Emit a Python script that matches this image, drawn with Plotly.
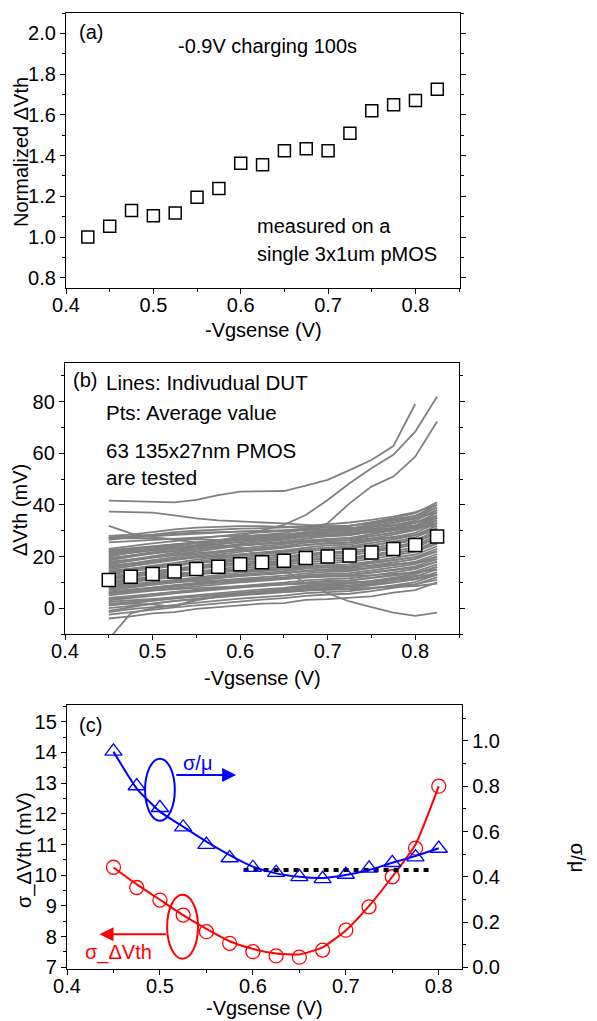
import plotly.graph_objects as go

# page body adds an 8px margin, so the figure is drawn 8px smaller and shifted
OFF = 8
W, H = 597 - OFF, 1021 - OFF
FONT = "Liberation Sans, Arial, sans-serif"

# ---------------- Panel (a) data ----------------
vg_a = [0.425, 0.45, 0.475, 0.5, 0.525, 0.55, 0.575, 0.6, 0.625, 0.65,
        0.675, 0.7, 0.725, 0.75, 0.775, 0.8, 0.825]
norm_dvth = [1.0, 1.053, 1.131, 1.105, 1.118, 1.195, 1.238, 1.363, 1.355,
             1.424, 1.433, 1.424, 1.51, 1.62, 1.649, 1.67, 1.726]

# ---------------- Panel (b) data ----------------
vg_b = [0.45, 0.475, 0.5, 0.525, 0.55, 0.575, 0.6, 0.625, 0.65, 0.675,
        0.7, 0.725, 0.75, 0.775, 0.8, 0.825]
avg_dvth = [10.97, 12.2, 13.2, 14.2, 15.2, 16.1, 17.0, 17.8, 18.4, 19.4,
            20.0, 20.4, 21.6, 22.9, 24.5, 27.8]
dut_lines = [
    [41.7, 41.5, 41.3, 41.0, 42.0, 43.8, 45.2, 45.3, 45.4, 47.5, 49.7, 53.5, 57.4, 62.8, 79.1, None],
    [37.4, 37.2, 37.0, 36.0, 34.8, 34.0, 33.5, 33.2, 32.9, 32.3, 31.6, 31.0, 30.5, 31.0, 32.0, 35.0],
    [22.0, 22.5, 23.0, 23.5, 24.5, 26.0, 28.0, 30.0, 32.3, 36.1, 41.9, 48.4, 54.2, 59.4, 68.4, 82.0],
    [27.0, 27.5, 28.0, 28.5, 29.0, 29.5, 29.8, 30.0, 30.1, 30.3, 32.9, 40.6, 47.1, 51.0, 58.7, 72.3],
    [31.9, 29.0, 27.5, 26.5, 25.5, 24.5, 23.5, 20.0, 15.0, 9.7, 5.8, 2.6, 0.4, -1.7, -3.0, -1.7],
    [-12.0, -2.0, 0.0, 1.0, 3.0, 4.5, 5.5, 6.5, 7.5, 8.5, 9.0, 9.5, 10.5, 11.5, 12.5, 13.0],
    [-4.0, -3.2, -2.0, -1.5, -0.3, 0.4, 1.0, 1.8, 2.0, 3.2, 3.5, 4.0, 4.6, 6.0, 7.0, 10.0],
    [-2.5, -1.5, -0.6, 0.3, 1.1, 1.9, 2.7, 3.3, 3.9, 4.8, 5.3, 5.6, 6.6, 7.8, 9.1, 12.0],
    [-1.5, -0.4, 0.4, 1.3, 2.1, 2.9, 3.7, 4.3, 4.9, 5.8, 6.3, 6.6, 7.6, 8.8, 10.1, 13.0],
    [-1.0, 0.5, 1.8, 2.8, 3.6, 4.5, 5.3, 6.0, 6.6, 7.0, 7.3, 7.6, 7.9, 8.2, 8.6, 9.5],
    [0.0, 1.0, 1.8, 2.7, 3.5, 4.2, 5.0, 5.6, 6.2, 7.0, 7.6, 7.8, 8.8, 9.9, 11.2, 14.0],
    [1.0, 2.0, 2.8, 3.7, 4.5, 5.2, 6.0, 6.6, 7.2, 8.0, 8.6, 8.8, 9.8, 10.9, 12.2, 15.0],
    [1.5, 2.5, 3.4, 4.3, 5.1, 5.9, 6.7, 7.3, 7.9, 8.8, 9.3, 9.6, 10.6, 11.8, 13.1, 16.0],
    [2.0, 1.8, 1.5, 0.5, 3.5, 4.5, 5.5, 6.2, 6.8, 7.5, 8.0, 8.4, 9.2, 10.2, 11.2, 13.0],
    [3.0, 4.0, 4.8, 5.7, 6.5, 7.2, 8.0, 8.6, 9.2, 10.0, 10.6, 10.8, 11.8, 12.9, 14.2, 17.0],
    [3.5, 4.5, 5.4, 6.3, 7.1, 7.9, 8.7, 9.3, 9.9, 10.8, 11.3, 11.6, 12.6, 13.8, 15.1, 18.0],
    [4.0, 4.8, 5.6, 6.3, 7.0, 7.6, 8.3, 8.8, 9.3, 10.0, 10.5, 10.7, 11.6, 12.5, 13.6, 16.0],
    [5.0, 6.0, 6.8, 7.7, 8.5, 9.2, 10.0, 10.6, 11.2, 12.0, 12.6, 12.8, 13.8, 14.9, 16.2, 19.0],
    [5.5, 6.5, 7.4, 8.3, 9.1, 9.9, 10.7, 11.3, 11.9, 12.8, 13.3, 13.6, 14.6, 15.8, 17.1, 20.0],
    [6.0, 7.1, 8.0, 8.9, 9.8, 10.5, 11.4, 12.0, 12.6, 13.5, 14.1, 14.4, 15.5, 16.7, 18.0, 21.0],
    [6.5, 7.3, 8.0, 8.7, 9.4, 10.0, 10.6, 11.1, 11.6, 12.3, 12.7, 12.9, 13.7, 14.7, 15.7, 18.0],
    [7.0, 8.1, 9.0, 9.9, 10.8, 11.5, 12.4, 13.0, 13.6, 14.5, 15.1, 15.4, 16.5, 17.7, 19.0, 22.0],
    [7.5, 8.6, 9.5, 10.4, 11.4, 12.2, 13.1, 13.7, 14.3, 15.3, 15.9, 16.2, 17.3, 18.5, 19.9, 23.0],
    [8.0, 9.1, 10.1, 11.0, 12.0, 12.8, 13.8, 14.4, 15.0, 16.0, 16.6, 17.0, 18.1, 19.4, 20.8, 24.0],
    [8.5, 9.3, 10.0, 10.7, 11.4, 12.0, 12.6, 13.1, 13.6, 14.3, 14.7, 14.9, 15.7, 16.7, 17.7, 20.0],
    [9.0, 10.1, 11.1, 12.0, 13.0, 13.8, 14.8, 15.4, 16.0, 17.0, 17.6, 18.0, 19.1, 20.4, 21.8, 25.0],
    [9.5, 10.7, 11.6, 12.6, 13.6, 14.5, 15.4, 16.1, 16.8, 17.8, 18.4, 18.7, 19.9, 21.2, 22.7, 26.0],
    [10.0, 11.2, 12.2, 13.2, 14.3, 15.1, 16.1, 16.8, 17.5, 18.5, 19.2, 19.5, 20.7, 22.1, 23.6, 27.0],
    [10.5, 11.3, 12.0, 12.7, 13.4, 14.0, 14.6, 15.1, 15.6, 16.3, 16.7, 16.9, 17.7, 18.7, 19.7, 22.0],
    [11.0, 12.2, 13.2, 14.2, 15.3, 16.1, 17.1, 17.8, 18.5, 19.5, 20.2, 20.5, 21.7, 23.1, 24.6, 28.0],
    [11.5, 12.7, 13.8, 14.8, 15.9, 16.8, 17.8, 18.5, 19.2, 20.3, 21.0, 21.3, 22.5, 23.9, 25.5, 29.0],
    [12.0, 13.3, 14.3, 15.4, 16.5, 17.4, 18.5, 19.2, 19.9, 21.0, 21.7, 22.1, 23.3, 24.8, 26.4, 30.0],
    [12.5, 13.4, 14.1, 14.9, 15.6, 16.3, 17.0, 17.5, 18.0, 18.8, 19.3, 19.5, 20.4, 21.4, 22.5, 25.0],
    [13.0, 14.3, 15.3, 16.4, 17.5, 18.4, 19.5, 20.2, 20.9, 22.0, 22.7, 23.1, 24.3, 25.8, 27.4, 31.0],
    [13.5, 14.8, 15.9, 17.0, 18.1, 19.1, 20.2, 20.9, 21.6, 22.8, 23.5, 23.9, 25.2, 26.6, 28.3, 32.0],
    [14.0, 15.3, 16.5, 17.6, 18.8, 19.7, 20.8, 21.6, 22.4, 23.5, 24.3, 24.6, 26.0, 27.5, 29.2, 33.0],
    [14.5, 15.4, 16.1, 16.9, 17.6, 18.3, 19.0, 19.5, 20.0, 20.8, 21.3, 21.5, 22.4, 23.4, 24.5, 27.0],
    [15.0, 16.3, 17.5, 18.6, 19.8, 20.7, 21.8, 22.6, 23.4, 24.5, 25.3, 25.6, 27.0, 28.5, 30.2, 34.0],
    [15.5, 16.9, 18.0, 19.2, 20.4, 21.4, 22.5, 23.3, 24.1, 25.3, 26.0, 26.4, 27.8, 29.3, 31.1, 35.0],
    [16.0, 17.4, 18.6, 19.8, 21.0, 22.0, 23.2, 24.0, 24.8, 26.0, 26.8, 27.2, 28.6, 30.2, 32.0, 36.0],
    [16.5, 17.4, 18.1, 18.9, 19.6, 20.3, 21.0, 21.5, 22.0, 22.8, 23.3, 23.5, 24.4, 25.4, 26.5, 29.0],
    [17.0, 18.4, 19.6, 20.8, 22.0, 23.0, 24.2, 25.0, 25.8, 27.0, 27.8, 28.2, 29.6, 31.2, 33.0, 37.0],
    [17.5, 18.9, 20.2, 21.4, 22.6, 23.7, 24.9, 25.7, 26.5, 27.8, 28.6, 29.0, 30.4, 32.1, 33.9, 38.0],
    [18.0, 18.9, 19.7, 20.5, 21.3, 21.9, 22.7, 23.2, 23.7, 24.5, 25.0, 25.3, 26.2, 27.2, 28.4, 31.0],
    [18.5, 19.9, 21.2, 22.4, 23.6, 24.7, 25.9, 26.7, 27.5, 28.8, 29.6, 30.0, 31.4, 33.1, 34.9, 39.0],
    [19.0, 20.5, 21.7, 23.0, 24.3, 25.3, 26.6, 27.4, 28.2, 29.5, 30.3, 30.8, 32.2, 33.9, 35.8, 40.0],
    [19.5, 20.4, 21.3, 22.1, 22.9, 23.6, 24.4, 24.9, 25.4, 26.3, 26.8, 27.1, 28.0, 29.1, 30.3, 33.0],
    [20.0, 21.5, 22.7, 24.0, 25.3, 26.3, 27.6, 28.4, 29.2, 30.5, 31.3, 31.8, 33.2, 34.9, 36.8, 41.0],
    [20.5, 21.5, 22.4, 23.3, 24.1, 24.9, 25.7, 26.3, 26.9, 27.8, 28.3, 28.6, 29.6, 30.8, 32.1, 35.0],
    [21.0, 22.2, 23.2, 24.2, 25.3, 26.1, 27.1, 27.8, 28.5, 29.5, 30.2, 30.5, 31.7, 33.1, 34.6, 38.0],
    [21.5, 22.1, 22.6, 23.1, 23.6, 24.1, 24.6, 24.9, 25.2, 25.8, 26.1, 26.3, 26.9, 27.5, 28.3, 30.0],
    [22.0, 23.0, 23.8, 24.7, 25.5, 26.2, 27.0, 27.6, 28.2, 29.0, 29.6, 29.8, 30.8, 31.9, 33.2, 36.0],
    [22.5, 23.3, 24.0, 24.7, 25.4, 26.0, 26.6, 27.1, 27.6, 28.3, 28.7, 28.9, 29.7, 30.7, 31.7, 34.0],
    [23.0, 24.1, 25.1, 26.0, 27.0, 27.8, 28.8, 29.4, 30.0, 31.0, 31.6, 32.0, 33.1, 34.4, 35.8, 39.0],
    [25.5, 26.0, 26.5, 27.0, 27.5, 27.8, 28.0, 28.2, 28.4, 28.8, 29.0, 29.3, 29.8, 30.3, 31.0, 32.0],
    [26.5, 27.5, 28.5, 29.5, 30.0, 30.5, 30.8, 31.0, 31.2, 31.5, 31.8, 32.0, 32.8, 33.8, 35.0, 37.0],
    [27.5, 28.0, 28.5, 29.0, 29.3, 29.5, 29.6, 29.8, 30.0, 30.3, 30.6, 31.0, 31.6, 32.3, 33.3, 35.0],
    [28.0, 28.5, 29.5, 30.5, 31.2, 31.6, 31.8, 31.8, 31.5, 31.8, 32.5, 33.2, 34.2, 35.5, 37.2, 40.0],
    [27.0, 27.2, 27.0, 26.8, 26.5, 26.5, 26.8, 27.0, 27.3, 27.8, 28.2, 28.7, 29.4, 30.2, 31.3, 33.0],
    [6.0, 6.5, 7.0, 7.4, 7.8, 8.2, 8.5, 8.8, 9.1, 9.5, 9.8, 10.0, 10.4, 11.0, 11.6, 13.0],
    [9.0, 9.4, 9.8, 10.1, 10.5, 10.8, 11.2, 11.4, 11.6, 12.0, 12.2, 12.4, 12.8, 13.3, 13.8, 15.0],
    [12.0, 12.5, 12.9, 13.3, 13.8, 14.1, 14.5, 14.8, 15.1, 15.5, 15.8, 15.9, 16.4, 17.0, 17.6, 19.0],
    [2.5, 3.1, 3.6, 4.1, 4.6, 5.1, 5.6, 5.9, 6.2, 6.8, 7.1, 7.3, 7.9, 8.5, 9.3, 11.0],
]

# ---------------- Panel (c) data ----------------
vg_c = [0.45, 0.475, 0.5, 0.525, 0.55, 0.575, 0.6, 0.625, 0.65, 0.675,
        0.7, 0.725, 0.75, 0.775, 0.8]
sigma_dvth = [10.26, 9.6, 9.19, 8.7, 8.16, 7.78, 7.51, 7.37, 7.33, 7.56,
              8.21, 8.97, 9.95, 10.88, 12.9]
sigma_fit = [10.25, 9.7, 9.2, 8.7, 8.25, 7.85, 7.6, 7.45, 7.42, 7.65,
             8.2, 9.0, 9.95, 11.0, 12.9]
cv = [0.954, 0.801, 0.705, 0.619, 0.542, 0.483, 0.44, 0.418, 0.40, 0.391,
      0.41, 0.437, 0.462, 0.487, 0.525]
cv_fit = [0.953, 0.79, 0.688, 0.621, 0.555, 0.496, 0.445, 0.415, 0.40, 0.395,
          0.408, 0.43, 0.462, 0.492, 0.526]
ref_x = [0.59, 0.79]
ref_y = [0.43, 0.43]


def px(x):
    return (x - OFF) / W


def py(y):
    return 1 - (y - OFF) / H


def axis(domain, rng, dtick, minor, anchor, fmt, mirror=True, standoff=0, **kw):
    d = dict(domain=domain, range=rng, dtick=dtick, tick0=0, ticks="outside",
             ticklen=5, tickwidth=1.2, tickcolor="black", showline=True,
             linecolor="black", linewidth=1.3, mirror=mirror, showgrid=False,
             zeroline=False, tickformat=fmt, automargin=False,
             ticklabelstandoff=standoff,
             tickfont=dict(size=20, family=FONT, color="black"),
             minor=dict(dtick=minor, tick0=0, ticks="outside", ticklen=3,
                        tickwidth=1, tickcolor="black"),
             anchor=anchor)
    d.update(kw)
    return d


fig = go.Figure()

# (a)
fig.add_trace(go.Scatter(x=vg_a, y=norm_dvth, mode="markers", xaxis="x", yaxis="y",
                         marker=dict(symbol="square-open", size=12, color="black",
                                     line=dict(width=1.5)), showlegend=False))

# (b)
for line in dut_lines:
    fig.add_trace(go.Scatter(x=vg_b, y=line, mode="lines", xaxis="x2", yaxis="y2",
                             line=dict(color="#808080", width=1.8), showlegend=False,
                             hoverinfo="skip"))
fig.add_trace(go.Scatter(x=vg_b, y=avg_dvth, mode="markers", xaxis="x2", yaxis="y2",
                         marker=dict(symbol="square", size=13, color="white",
                                     line=dict(width=1.5, color="black")),
                         showlegend=False))

# (c)
fig.add_trace(go.Scatter(x=ref_x, y=ref_y, mode="lines", xaxis="x3", yaxis="y4",
                         line=dict(color="black", width=4, dash="5px,5px"), showlegend=False))
fig.add_trace(go.Scatter(x=vg_c, y=sigma_fit, mode="lines", xaxis="x3", yaxis="y3",
                         line=dict(color="#ff0000", width=2, shape="spline", smoothing=0.5),
                         showlegend=False))
fig.add_trace(go.Scatter(x=vg_c, y=sigma_dvth, mode="markers", xaxis="x3", yaxis="y3",
                         marker=dict(symbol="circle-open", size=14, color="#ff0000",
                                     line=dict(width=1.3)), showlegend=False))
fig.add_trace(go.Scatter(x=vg_c, y=cv_fit, mode="lines", xaxis="x3", yaxis="y4",
                         line=dict(color="#0000ff", width=2, shape="spline", smoothing=0.5),
                         showlegend=False))
fig.add_trace(go.Scatter(x=vg_c, y=cv, mode="markers", xaxis="x3", yaxis="y4",
                         marker=dict(symbol="triangle-up-open", size=15, color="#0000ff",
                                     line=dict(width=1.3)), showlegend=False))

ann = []


def txt(x, y, s, xanchor="center", size=20, color="black", angle=0):
    ann.append(dict(x=px(x), y=py(y), xref="paper", yref="paper", text=s,
                    showarrow=False, xanchor=xanchor, yanchor="middle",
                    textangle=angle, font=dict(family=FONT, size=size, color=color)))


# panel labels and texts
txt(77, 32, "(a)", "left")
txt(71, 380, "(b)", "left")
txt(77, 725, "(c)", "left")
txt(267, 46, "-0.9V charging 100s")
txt(255, 226, "measured on a", "left")
txt(255, 254, "single 3x1um pMOS", "left")
txt(104, 383, "Lines: Indivudual DUT", "left", size=20.5)
txt(104, 412, "Pts: Average value", "left", size=20.5)
txt(104, 450, "63 135x27nm PMOS", "left", size=20.5)
txt(104, 478, "are tested", "left", size=20.5)

# axis titles
txt(263, 330, "-Vgsense (V)")
txt(262, 678, "-Vgsense (V)")
txt(264, 1008, "-Vgsense (V)")
txt(21, 152, "Normalized ΔVth", angle=-90)
txt(20, 510, "ΔVth (mV)", angle=-90)
txt(24, 850, "σ_ΔVth (mV)", angle=-90)
txt(578, 857, "σ/μ", angle=90)

# (c) arrow labels
ann.append(dict(x=0.540, y=13.65, xref="x3", yref="y3", text="σ/μ", showarrow=False,
                font=dict(family=FONT, size=20, color="#0000ff")))
ann.append(dict(x=0.455, y=7.48, xref="x3", yref="y3", text="σ_ΔVth", showarrow=False,
                font=dict(family=FONT, size=20, color="#ff0000")))
ann.append(dict(x=0.582, y=13.26, ax=0.516, ay=13.26, xref="x3", yref="y3",
                axref="x3", ayref="y3", text="", showarrow=True, arrowhead=2,
                arrowsize=1.4, arrowwidth=2, arrowcolor="#0000ff"))
ann.append(dict(x=0.435, y=8.08, ax=0.508, ay=8.08, xref="x3", yref="y3",
                axref="x3", ayref="y3", text="", showarrow=True, arrowhead=2,
                arrowsize=1.4, arrowwidth=2, arrowcolor="#ff0000"))

shapes = [
    dict(type="circle", xref="x3", yref="y3", x0=0.484, x1=0.516, y0=11.77, y1=13.79,
         line=dict(color="#0000ff", width=2)),
    dict(type="circle", xref="x3", yref="y3", x0=0.5077, x1=0.541, y0=7.28, y1=9.36,
         line=dict(color="#ff0000", width=2)),
]

XSO = -6
fig.update_layout(
    width=W, height=H, margin=dict(l=0, r=0, t=0, b=0),
    paper_bgcolor="white", plot_bgcolor="white",
    font=dict(family=FONT, size=20, color="black"),
    xaxis=axis([px(66), px(460)], [0.4, 0.851], 0.1, 0.05, "y", ".1f", standoff=XSO),
    yaxis=axis([py(288), py(13)], [0.75, 2.1], 0.2, 0.1, "x", ".1f", mirror="ticks"),
    xaxis2=axis([px(65), px(459)], [0.4, 0.85], 0.1, 0.05, "y2", ".1f", standoff=XSO),
    yaxis2=axis([py(634), py(363)], [-10, 95], 20, 10, "x2", "d", mirror="ticks"),
    xaxis3=axis([px(67), px(462)], [0.4, 0.825], 0.1, 0.05, "y3", ".1f", standoff=XSO),
    yaxis3=axis([py(969), py(705)], [6.945, 15.544], 1, 0.5, "x3", "d", mirror=False),
    yaxis4=axis([py(969), py(705)], [-0.0075, 1.159], 0.2, 0.1, "x3", ".1f",
                mirror=False, overlaying="y3", side="right"),
    annotations=ann, shapes=shapes,
)

fig.write_html("out.html")
